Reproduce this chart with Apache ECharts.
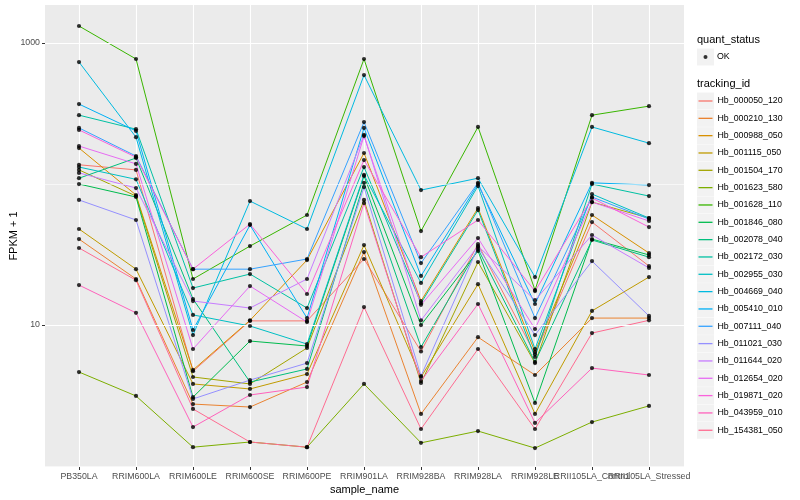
<!DOCTYPE html>
<html><head><meta charset="utf-8">
<script src="https://cdn.jsdelivr.net/npm/echarts@6/dist/echarts.min.js"></script>
<style>html,body{margin:0;padding:0;background:#fff}#c{width:800px;height:500px}</style>
</head><body><div id="c"></div>
<script>
const samples = ['PB350LA','RRIM600LA','RRIM600LE','RRIM600SE','RRIM600PE','RRIM901LA','RRIM928BA','RRIM928LA','RRIM928LE','RRII105LA_Control','RRII105LA_Stressed'];
const trackingIds = ['Hb_000050_120','Hb_000210_130','Hb_000988_050','Hb_001115_050','Hb_001504_170','Hb_001623_580','Hb_001628_110','Hb_001846_080','Hb_002078_040','Hb_002172_030','Hb_002955_030','Hb_004669_040','Hb_005410_010','Hb_007111_040','Hb_011021_030','Hb_011644_020','Hb_012654_020','Hb_019871_020','Hb_043959_010','Hb_154381_050'];
const colors = ['#F8766D','#EA8331','#D89000','#C09B00','#A3A500','#7CAE00','#39B600','#00BB4E','#00BF7D','#00C1A3','#00BFC4','#00BAE0','#00B0F6','#35A2FF','#9590FF','#C77CFF','#E76BF3','#FA62DB','#FF62BC','#FF6C91'];
const yTickLabels = [10, 1000];
const yGridMajor = [10, 1000];
const yGridMinor = [1, 100];

const Hb_000050_120 = [137, 126, 4.7, 10.7, 10.7, 29.4, 6.5, 37.5, 6.2, 53.7, 26.2];
const Hb_000210_130 = [40.7, 21.2, 2.75, 2.62, 3.94, 32.9, 2.34, 8.2, 4.42, 11.2, 11.2];
const Hb_000988_050 = [180, 83.6, 4.8, 10.8, 28.9, 166, 14.8, 67.6, 6.44, 60.3, 32.4];
const Hb_001115_050 = [48, 24.9, 3.82, 3.52, 4.49, 36.9, 4.28, 19.5, 2.34, 12.6, 21.9];
const Hb_001504_170 = [126, 82.2, 4.28, 3.82, 6.87, 77.1, 3.88, 28, 5.37, 74.5, 57.4];
const Hb_001623_580 = [4.64, 3.14, 1.36, 1.48, 1.36, 3.82, 1.46, 1.77, 1.34, 2.05, 2.67];
const Hb_001628_110 = [1321, 771, 21.2, 36.3, 60.3, 771, 46.4, 254, 17.7, 308, 357];
const Hb_001846_080 = [100, 80.9, 3.08, 7.7, 7.1, 114, 10, 33.5, 2.8, 40.7, 31.4];
const Hb_002078_040 = [110, 153, 15.3, 3.94, 4.88, 102, 6.98, 34.6, 5.47, 40.1, 30.3];
const Hb_002172_030 = [308, 245, 18.3, 23, 13.2, 132, 14.3, 65.4, 5.93, 100, 82.2];
const Hb_002955_030 = [132, 108, 11.8, 9.84, 7.33, 116, 19.9, 96.8, 6.76, 84.9, 57.4];
const Hb_004669_040 = [733, 215, 8.49, 75.7, 48, 593, 90.6, 110, 21.9, 254, 195];
const Hb_005410_010 = [369, 238, 9.22, 51.2, 11.2, 250, 22.3, 100, 14.1, 102, 98.4];
const Hb_007111_040 = [250, 158, 24.9, 24.9, 29.4, 275, 27.5, 102, 11.2, 80.9, 56.5];
const Hb_011021_030 = [77.1, 55.6, 2.99, 4.07, 5.37, 95.2, 4.35, 35.7, 8.49, 28.4, 11.6];
const Hb_011644_020 = [120, 93.7, 14.8, 13.2, 21.2, 223, 10.8, 36.3, 15, 43.5, 25.4];
const Hb_012654_020 = [186, 139, 6.76, 18.9, 10.5, 219, 13.9, 41.4, 9.37, 74.5, 54.7];
const Hb_019871_020 = [242, 155, 24.9, 52, 16.6, 148, 30.3, 55.6, 17.4, 79.6, 49.5];
const Hb_043959_010 = [19.2, 12.2, 1.89, 3.19, 3.63, 73.3, 4.01, 14.1, 2.02, 4.95, 4.42];
const Hb_154381_050 = [35.2, 20.8, 2.54, 1.48, 1.36, 13.4, 1.83, 6.76, 1.83, 8.77, 10.8];

const seriesValues = [Hb_000050_120, Hb_000210_130, Hb_000988_050, Hb_001115_050, Hb_001504_170, Hb_001623_580, Hb_001628_110, Hb_001846_080, Hb_002078_040, Hb_002172_030, Hb_002955_030, Hb_004669_040, Hb_005410_010, Hb_007111_040, Hb_011021_030, Hb_011644_020, Hb_012654_020, Hb_019871_020, Hb_043959_010, Hb_154381_050];

const FONT = 'Liberation Sans, Arial, Helvetica, sans-serif';
const Y_MIN = 0.984, Y_MAX = 1862;
const KEY = 17.33;
const chart = echarts.init(document.getElementById('c'), null, {renderer: 'canvas'});

const lineSeries = trackingIds.map((id, k) => ({
  name: id, type: 'line', xAxisIndex: 1, yAxisIndex: 1,
  data: seriesValues[k], symbol: 'none', showSymbol: false,
  lineStyle: {color: colors[k], width: 1}, itemStyle: {color: colors[k]},
  silent: true, z: 3
}));
const points = [];
seriesValues.forEach(vals => vals.forEach((v, i) => points.push([i, v])));

const gridLines = yGridMajor.map(v => ({yAxis: v, lineStyle: {width: 1.1}}))
  .concat(yGridMinor.map(v => ({yAxis: v, lineStyle: {width: 0.6}})));

const keyRects = [];
keyRects.push({type: 'rect', left: 697, top: 48.5, shape: {width: 17, height: 17}, style: {fill: '#F2F2F2'}, silent: true, z: 0});
trackingIds.forEach((id, i) => keyRects.push({type: 'rect', left: 697, top: 92.5 + i * KEY, shape: {width: 17, height: 17}, style: {fill: '#F2F2F2'}, silent: true, z: 0}));

chart.setOption({
  animation: false,
  textStyle: {fontFamily: FONT},
  title: [
    {text: 'quant_status', left: 697, top: 34.5, padding: 0, textStyle: {fontSize: 11, fontWeight: 'normal', color: '#000', fontFamily: FONT}},
    {text: 'tracking_id', left: 697, top: 78, padding: 0, textStyle: {fontSize: 11, fontWeight: 'normal', color: '#000', fontFamily: FONT}}
  ],
  graphic: keyRects,
  legend: [
    {data: ['OK'], orient: 'vertical', left: 703.5, top: 48.4, padding: 0, itemWidth: 4, itemHeight: 4, selectedMode: false,
     icon: 'circle', itemStyle: {color: '#000'},
     textStyle: {fontSize: 8.8, lineHeight: 17.2, color: '#000', fontFamily: FONT, padding: [0, 0, 0, 4.5]}},
    {data: trackingIds, orient: 'vertical', left: 698.5, top: 92.33, padding: 0, itemGap: 0, itemWidth: 14, itemHeight: 1.3, selectedMode: false,
     icon: 'rect',
     textStyle: {fontSize: 8.8, lineHeight: KEY, color: '#000', fontFamily: FONT}}
  ],
  grid: [
    {left: 45, right: 116, top: 5, bottom: 33, show: true, backgroundColor: '#EBEBEB', borderWidth: 0, containLabel: false, outerBoundsMode: 'none'},
    {left: 79, right: 151, top: 5, bottom: 33, show: false, containLabel: false, outerBoundsMode: 'none'}
  ],
  xAxis: [
    {gridIndex: 0, type: 'value', min: 0, max: 1, axisLine: {show: false}, axisTick: {show: false}, axisLabel: {show: false}, splitLine: {show: false},
     name: 'sample_name', nameLocation: 'middle', nameGap: 17, nameMoveOverlap: false, nameTextStyle: {fontSize: 11, color: '#000', fontFamily: FONT, verticalAlign: 'top'}},
    {gridIndex: 1, type: 'category', data: samples, boundaryGap: false,
     axisLine: {show: false},
     axisTick: {show: true, alignWithLabel: true, length: 3, lineStyle: {color: '#333333', width: 1}},
     axisLabel: {interval: 0, hideOverlap: false, margin: 5, fontSize: 8.8, color: '#4D4D4D', fontFamily: FONT},
     splitLine: {show: true, lineStyle: {color: '#FFFFFF', width: 1.1}}}
  ],
  yAxis: [
    {gridIndex: 0, type: 'log', logBase: 10, min: Y_MIN, max: Y_MAX,
     axisLine: {show: false},
     axisTick: {show: true, customValues: yTickLabels, length: 3, lineStyle: {color: '#333333', width: 1}},
     axisLabel: {margin: 5, fontSize: 8.8, color: '#4D4D4D', fontFamily: FONT,
       formatter: v => { for (const t of yTickLabels) { if (Math.abs(v - t) < t * 1e-6) return String(t); } return ''; }},
     splitLine: {show: false},
     name: 'FPKM + 1', nameLocation: 'middle', nameGap: 26, nameMoveOverlap: false, nameTextStyle: {fontSize: 11, color: '#000', fontFamily: FONT}},
    {gridIndex: 1, type: 'log', logBase: 10, min: Y_MIN, max: Y_MAX, show: false, axisLine: {show: false}, axisTick: {show: false}, axisLabel: {show: false}, splitLine: {show: false}}
  ],
  series: [
    {name: '_grid', type: 'line', xAxisIndex: 0, yAxisIndex: 0, data: [[0.5, 10]], symbol: 'none', lineStyle: {width: 0, opacity: 0}, silent: true, z: 1,
     markLine: {silent: true, symbol: ['none', 'none'], label: {show: false}, animation: false, lineStyle: {color: '#FFFFFF', type: 'solid'}, data: gridLines}},
    ...lineSeries,
    {name: 'OK', type: 'scatter', xAxisIndex: 1, yAxisIndex: 1, data: points, symbol: 'circle', symbolSize: 4.2, itemStyle: {color: '#000'}, silent: true, z: 5}
  ]
});
</script></body></html>
